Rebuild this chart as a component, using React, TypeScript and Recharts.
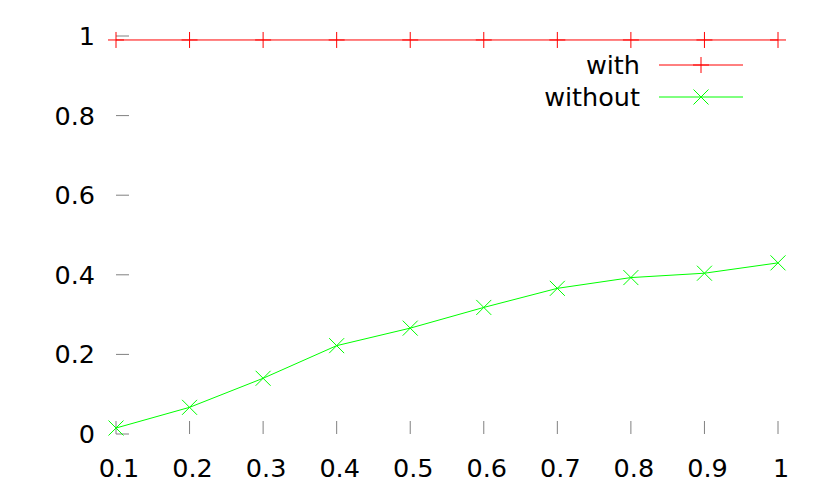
import { LineChart, Line, XAxis, YAxis, Legend } from 'recharts';

const xValues = [0.1, 0.2, 0.3, 0.4, 0.5, 0.6, 0.7, 0.8, 0.9, 1];
const withValues = [0.99, 0.99, 0.99, 0.99, 0.99, 0.99, 0.99, 0.99, 0.99, 0.99];
const withoutValues = [0.015, 0.067, 0.14, 0.222, 0.266, 0.318, 0.366, 0.393, 0.404, 0.43];
const xTicks = [0.1, 0.2, 0.3, 0.4, 0.5, 0.6, 0.7, 0.8, 0.9, 1];
const yTicks = [0, 0.2, 0.4, 0.6, 0.8, 1];

const seriesNames = ['with', 'without'];
const seriesColors = ['#ff0000', '#00ff00'];

const data = xValues.map((x, i) => ({ x, with: withValues[i], without: withoutValues[i] }));

const FONT = '"DejaVu Sans", sans-serif';
const TICK_COLOR = '#808080';

function PlusDot(props: any) {
  const { cx, cy } = props;
  if (cx == null || cy == null) return null;
  return (
    <g stroke="#ff0000" strokeWidth={1}>
      <line x1={cx - 8} y1={cy} x2={cx + 8} y2={cy} />
      <line x1={cx} y1={cy - 8} x2={cx} y2={cy + 8} />
    </g>
  );
}

function CrossDot(props: any) {
  const { cx, cy } = props;
  if (cx == null || cy == null) return null;
  return (
    <g stroke="#00ff00" strokeWidth={1}>
      <line x1={cx - 7.5} y1={cy - 7.5} x2={cx + 7.5} y2={cy + 7.5} />
      <line x1={cx - 7.5} y1={cy + 7.5} x2={cx + 7.5} y2={cy - 7.5} />
    </g>
  );
}

function KeyBox() {
  return (
    <svg width={260} height={70} style={{ display: 'block' }}>
      {seriesNames.map((name, i) => {
        const y = 20 + i * 32;
        return (
          <g key={name}>
            <text x={140} y={y} textAnchor="end" dominantBaseline="central" fontSize={25.5} fontFamily={FONT} fill="#000">
              {name}
            </text>
            <line x1={159} y1={y} x2={243} y2={y} stroke={seriesColors[i]} strokeWidth={1} />
            {i === 0 ? <PlusDot cx={201} cy={y} /> : <CrossDot cx={201} cy={y} />}
          </g>
        );
      })}
    </svg>
  );
}

const noLabel = () => <g />;

export default function App() {
  return (
    <div style={{ position: 'absolute', left: 0, top: 0, width: 830, height: 498, background: '#fff', fontFamily: FONT }}>
      <LineChart width={830} height={498} data={data} margin={{ top: 36, right: 0, bottom: 0, left: 0 }}>
        <XAxis
          xAxisId="b"
          dataKey="x"
          type="number"
          domain={[0.1, 1]}
          ticks={xTicks}
          height={64}
          axisLine={false}
          tickSize={-13}
          tickMargin={38}
          tickLine={{ stroke: TICK_COLOR }}
          tick={{ fill: '#000', fontSize: 25.5, fontFamily: FONT, dx: 3 }}
          tickFormatter={(v: number) => String(v)}
          interval={0}
        />
        <XAxis
          xAxisId="t"
          orientation="top"
          dataKey="x"
          type="number"
          domain={[0.1, 1]}
          ticks={xTicks}
          height={0}
          axisLine={false}
          tickSize={-13}
          tickLine={{ stroke: TICK_COLOR }}
          tick={noLabel}
          interval={0}
        />
        <YAxis
          yAxisId="l"
          type="number"
          domain={[0, 1]}
          ticks={yTicks}
          width={116}
          axisLine={false}
          tickSize={-13}
          tickMargin={34}
          tickLine={{ stroke: TICK_COLOR }}
          tick={{ fill: '#000', fontSize: 25.5, fontFamily: FONT }}
          tickFormatter={(v: number) => String(v)}
          interval={0}
        />
        <YAxis
          yAxisId="r"
          orientation="right"
          type="number"
          domain={[0, 1]}
          ticks={yTicks}
          width={52}
          axisLine={false}
          tickSize={-13}
          tickLine={{ stroke: TICK_COLOR }}
          tick={noLabel}
          interval={0}
        />
        <Legend
          layout="horizontal"
          verticalAlign="middle"
          content={() => <KeyBox />}
          wrapperStyle={{ position: 'absolute', left: 500, top: 45, width: 260, height: 70 }}
        />
        <Line
          xAxisId="b"
          yAxisId="l"
          dataKey="with"
          stroke="#ff0000"
          strokeWidth={1}
          dot={<PlusDot />}
          activeDot={false}
          isAnimationActive={false}
        />
        <Line
          xAxisId="b"
          yAxisId="l"
          dataKey="without"
          stroke="#00ff00"
          strokeWidth={1}
          dot={<CrossDot />}
          activeDot={false}
          isAnimationActive={false}
        />
      </LineChart>
    </div>
  );
}
